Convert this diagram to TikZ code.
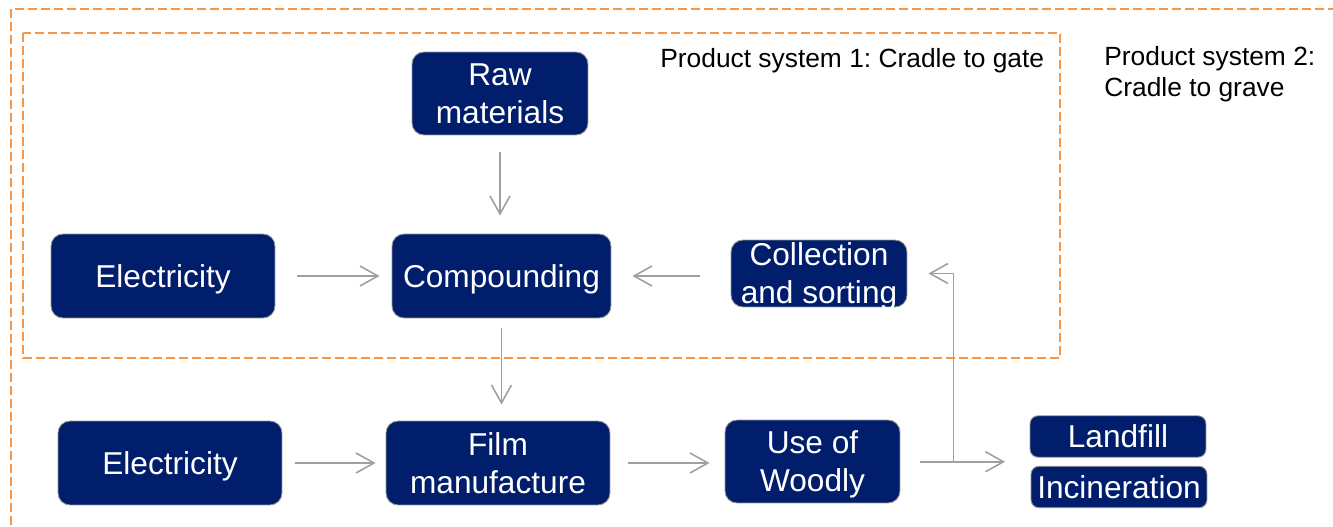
\documentclass[tikz,border=0pt]{standalone}
\usepackage{fontspec}
\setmainfont{Liberation Sans}
\frenchspacing
\usetikzlibrary{arrows.meta,calc}
\definecolor{boxblue}{RGB}{0,30,108}
\definecolor{framegray}{RGB}{150,150,150}
\definecolor{flowgray}{RGB}{160,160,160}
\definecolor{sysorange}{RGB}{247,150,70}
\begin{document}
\begin{tikzpicture}[x=0.02cm, y=-0.02cm,
    stage/.style={rectangle, rounded corners=0.24cm, draw=framegray, line width=0.5pt, fill=boxblue, text=white, align=center, inner sep=0pt, text depth=0pt, font=\fontsize{18}{21.6}\selectfont},
    endbox/.style={stage, rounded corners=0.16cm, minimum width=3.52cm, minimum height=0.83cm},
    flow/.style={draw=flowgray, line width=0.9pt, -{Straight Barb[length=0.36cm, width=0.4cm]}},
    system/.style={draw=sysorange, line width=0.9pt, dash pattern=on 0.18cm off 0.08cm},
    syslabel/.style={align=left, inner sep=0pt, font=\fontsize{15}{17.6}\selectfont}]
    \useasboundingbox (0,0) rectangle (1333,527);
    \draw [system] (11,9) rectangle (1345,540);
    \draw [system] (23,33) rectangle (1060,358);
    \node [syslabel, anchor=base west] (sys1) at (660,68) {Product system 1: Cradle to gate};
    \node [syslabel, anchor=north west] (sys2) at (1104,46) {Product system 2:\\Cradle to grave};
    \node [stage, minimum width=3.52cm, minimum height=1.66cm] (raw) at (500,93.5) {Raw\\materials};
    \node [stage, minimum width=4.48cm, minimum height=1.68cm] (elec1) at (163,276) {Electricity};
    \node [stage, minimum width=4.38cm, minimum height=1.68cm] (comp) at (501.5,276) {Compounding};
    \node [stage, minimum width=3.52cm, minimum height=1.34cm] (coll) at (819,273.5) {Collection\\and sorting};
    \node [stage, minimum width=4.48cm, minimum height=1.68cm] (elec2) at (170,463) {Electricity};
    \node [stage, minimum width=4.48cm, minimum height=1.68cm] (film) at (498,463) {Film\\manufacture};
    \node [stage, minimum width=3.5cm, minimum height=1.66cm] (use) at (812.5,461.5) {Use of\\Woodly};
    \node [endbox] (land) at (1118,436.5) {Landfill};
    \node [endbox] (inc) at (1119,487) {Incineration};
    \coordinate (disposal) at ($(land.south west)!0.5!(inc.north west)$);
    \draw [flow, shorten <=0.34cm, shorten >=0.36cm] (raw.south) -- (raw.south |- comp.north);
    \draw [flow, shorten <=0.44cm, shorten >=0.24cm] (elec1) -- (comp);
    \draw [flow, shorten <=0.62cm, shorten >=0.42cm] (coll.west |- comp) -- (comp.east);
    \draw [flow, shorten <=0.2cm, shorten >=0.32cm] (comp.south) -- (comp.south |- film.north);
    \draw [flow, shorten <=0.26cm, shorten >=0.2cm] (elec2) -- (film);
    \draw [flow, shorten <=0.36cm, shorten >=0.3cm] (film.east) -- (film.east -| use.west);
    \draw [flow, shorten <=0.4cm, shorten >=0.5cm] (use.east |- disposal) -- (disposal);
    \draw [flow, shorten >=0.42cm] ($(use.east |- disposal)+(53,0)$) |- (coll.east);
\end{tikzpicture}
\end{document}
